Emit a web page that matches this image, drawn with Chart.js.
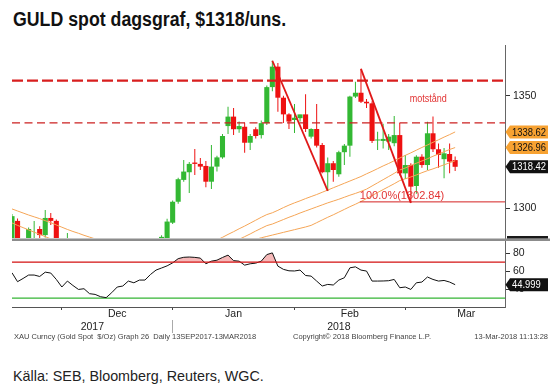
<!DOCTYPE html>
<html>
<head>
<meta charset="utf-8">
<script src="https://cdn.jsdelivr.net/npm/chart.js@4.4.1/dist/chart.umd.min.js"></script>
<style>
  html, body { margin: 0; padding: 0; background: #fff; }
  body { width: 559px; height: 391px; position: relative; overflow: hidden; font-family: "Liberation Sans", Arial, sans-serif; }
  #title { position: absolute; left: 13px; top: 8px; font-size: 20px; font-weight: bold; color: #111;
           white-space: nowrap; transform: scaleX(0.887); transform-origin: left top; }
  #priceCanvas { position: absolute; left: 0; top: 0; }
  #rsiCanvas { position: absolute; left: 0; top: 241px; }
  .foot { position: absolute; top: 332px; font-size: 7.5px; color: #444; white-space: nowrap; }
  #source { position: absolute; left: 13px; top: 367px; font-size: 15px; color: #222; white-space: nowrap;
            transform: scaleX(0.955); transform-origin: left top; }
</style>
</head>
<body>
<div id="title">GULD spot dagsgraf, $1318/uns.</div>
<canvas id="priceCanvas" width="559" height="250"></canvas>
<canvas id="rsiCanvas" width="559" height="100"></canvas>
<div class="foot" style="left:14px">XAU Curncy (Gold Spot &nbsp;$/Oz) Graph 26 &nbsp;Daily 13SEP2017-13MAR2018</div>
<div class="foot" style="left:293px">Copyright© 2018 Bloomberg Finance L.P.</div>
<div class="foot" style="right:11px">13-Mar-2018 11:13:28</div>
<div id="source">Källa: SEB, Bloomberg, Reuters, WGC.</div>

<script>
// daily candles, index 0 = first visible day (Nov 2017) ... 80 = 13 Mar 2018
const opens = [1284.0, 1294.4, 1283.0, 1279.0, 1284.0, 1290.8, 1288.1, 1295.7, 1294.4, 1282.0,
  1276.0, 1283.0, 1274.0, 1268.0, 1273.0, 1264.0, 1256.0, 1250.0, 1253.0, 1243.0,
  1248.0, 1256.0, 1261.0, 1258.0, 1265.0, 1268.0, 1274.0, 1280.0, 1285.0, 1293.6,
  1302.9, 1312.6, 1316.0, 1320.3, 1319.7, 1318.8, 1311.8, 1318.5, 1322.6, 1336.5,
  1340.7, 1335.1, 1336.2, 1329.1, 1335.1, 1332.5, 1337.8, 1353.8, 1362.9, 1349.1,
  1341.7, 1339.2, 1340.0, 1341.7, 1331.8, 1335.2, 1328.1, 1316.0, 1320.0, 1315.1,
  1324.9, 1327.8, 1349.6, 1351.3, 1347.3, 1346.6, 1330.1, 1329.9, 1329.6, 1328.9,
  1332.5, 1315.5, 1319.2, 1309.9, 1322.9, 1319.2, 1333.3, 1326.2, 1321.8, 1324.1, 1321.4];
const highs = [1297.5, 1295.5, 1285.5, 1291.5, 1294.3, 1292.0, 1299.2, 1297.9, 1295.0, 1285.0,
  1289.0, 1285.0, 1278.0, 1276.0, 1275.0, 1266.0, 1259.0, 1255.0, 1255.0, 1250.0,
  1258.0, 1263.0, 1263.0, 1266.0, 1270.0, 1276.0, 1282.0, 1288.0, 1295.3, 1303.5,
  1313.5, 1321.4, 1320.6, 1326.3, 1322.3, 1321.0, 1328.1, 1323.3, 1333.0, 1345.1,
  1344.5, 1338.5, 1338.0, 1333.0, 1336.0, 1339.0, 1354.5, 1365.5, 1364.5, 1350.0,
  1342.2, 1346.3, 1341.5, 1350.6, 1335.5, 1346.3, 1329.0, 1322.5, 1321.0, 1325.5,
  1328.5, 1350.0, 1356.2, 1361.9, 1348.5, 1347.5, 1334.0, 1337.5, 1333.0, 1341.0,
  1337.9, 1323.7, 1320.0, 1323.5, 1324.0, 1338.4, 1340.7, 1328.8, 1326.8, 1328.8, 1323.0];
const lows = [1281.0, 1280.0, 1276.0, 1277.0, 1281.0, 1286.0, 1287.0, 1292.6, 1280.0, 1275.0,
  1274.0, 1272.0, 1266.0, 1265.0, 1262.0, 1254.0, 1247.0, 1246.0, 1240.0, 1238.0,
  1246.0, 1254.0, 1255.0, 1256.0, 1262.0, 1266.0, 1272.0, 1278.0, 1283.0, 1293.0,
  1302.0, 1311.8, 1306.8, 1314.8, 1317.0, 1309.3, 1308.6, 1316.3, 1322.0, 1333.0,
  1332.5, 1333.5, 1324.7, 1325.9, 1331.0, 1331.0, 1337.0, 1352.0, 1342.9, 1337.9,
  1335.2, 1333.4, 1338.5, 1333.9, 1331.0, 1327.0, 1315.5, 1307.7, 1311.8, 1314.0,
  1319.2, 1322.9, 1349.0, 1346.8, 1344.5, 1329.0, 1325.9, 1326.5, 1325.9, 1327.5,
  1314.5, 1313.0, 1302.4, 1306.5, 1318.0, 1317.0, 1325.0, 1318.0, 1313.3, 1315.5, 1316.5];
const closes = [1296.5, 1283.0, 1279.0, 1290.8, 1286.0, 1288.1, 1295.7, 1294.4, 1282.0, 1277.0,
  1283.0, 1274.0, 1268.0, 1273.0, 1264.0, 1256.0, 1250.0, 1253.0, 1243.0, 1248.0,
  1256.0, 1261.0, 1258.0, 1265.0, 1268.0, 1274.0, 1280.0, 1287.3, 1294.1, 1302.9,
  1312.9, 1316.3, 1319.7, 1319.7, 1318.5, 1311.8, 1318.5, 1322.6, 1332.1, 1340.7,
  1335.1, 1336.5, 1329.1, 1332.1, 1332.1, 1337.8, 1353.8, 1362.9, 1349.1, 1341.7,
  1338.5, 1340.2, 1341.7, 1335.2, 1335.2, 1327.8, 1316.0, 1320.0, 1317.0, 1324.9,
  1327.8, 1349.6, 1351.3, 1347.3, 1346.6, 1329.9, 1330.4, 1330.8, 1331.8, 1332.5,
  1315.5, 1319.2, 1309.6, 1322.9, 1319.2, 1333.3, 1326.2, 1323.7, 1324.4, 1320.7, 1318.42];

// three moving averages (orange)
const maFast = [1299.7, 1298.8, 1297.9, 1297.0, 1296.2, 1295.4, 1294.5, 1293.6, 1292.6, 1291.6,
  1290.6, 1289.7, 1288.9, 1288.0, 1287.2, 1286.4, 1285.5, 1284.5, 1283.4, 1282.3,
  1281.3, 1280.4, 1279.7, 1279.1, 1278.7, 1278.5, 1278.5, 1278.7, 1279.1, 1279.7,
  1280.4, 1281.2, 1282.0, 1282.8, 1283.6, 1284.4, 1285.1, 1285.9, 1287.1, 1288.4,
  1289.6, 1290.9, 1292.1, 1293.4, 1294.7, 1296.0, 1297.2, 1298.0, 1299.1, 1300.3,
  1301.4, 1302.4, 1303.3, 1304.3, 1305.2, 1306.1, 1307.1, 1308.1, 1309.1, 1310.1,
  1311.1, 1312.1, 1313.1, 1314.1, 1315.3, 1316.4, 1317.6, 1318.8, 1319.9, 1321.1,
  1322.3, 1323.5, 1324.6, 1325.8, 1327.0, 1328.1, 1329.3, 1330.4, 1331.6, 1332.7, 1333.9];
const maMid = [1293.5, 1292.4, 1291.4, 1290.4, 1289.4, 1288.4, 1287.4, 1286.4, 1285.4, 1284.4,
  1283.4, 1282.4, 1281.4, 1280.5, 1279.6, 1278.7, 1277.9, 1277.1, 1276.4, 1275.8,
  1275.3, 1274.9, 1274.6, 1274.5, 1274.5, 1274.7, 1275.0, 1275.5, 1276.1, 1276.8,
  1277.5, 1278.3, 1279.1, 1279.9, 1280.7, 1281.5, 1282.3, 1283.1, 1283.9, 1284.7,
  1285.4, 1286.2, 1287.4, 1288.6, 1289.9, 1291.1, 1292.3, 1293.0, 1294.0, 1295.0,
  1296.0, 1296.9, 1297.9, 1298.8, 1299.7, 1300.6, 1301.5, 1302.4, 1303.2, 1304.0,
  1304.9, 1305.8, 1306.6, 1307.5, 1308.5, 1309.9, 1311.3, 1312.7, 1314.1, 1315.5,
  1317.0, 1317.9, 1319.0, 1320.0, 1321.0, 1322.0, 1323.1, 1324.1, 1325.1, 1326.1, 1326.96];
const maSlow = [1284.0, 1283.6, 1283.2, 1282.7, 1282.2, 1281.7, 1281.2, 1280.6, 1280.0, 1279.4,
  1278.8, 1278.2, 1277.6, 1277.0, 1276.4, 1275.9, 1275.4, 1274.9, 1274.5, 1274.1,
  1273.8, 1273.6, 1273.5, 1273.5, 1273.6, 1273.8, 1274.1, 1274.5, 1275.0, 1275.6,
  1276.3, 1277.0, 1277.7, 1278.4, 1279.1, 1279.8, 1280.5, 1281.2, 1281.9, 1282.6,
  1283.3, 1284.0, 1284.7, 1285.4, 1286.2, 1286.9, 1287.5, 1288.1, 1288.7, 1289.3,
  1289.9, 1290.5, 1291.1, 1291.7, 1292.4, 1293.6, 1294.8, 1296.0, 1297.1, 1298.3,
  1299.5, 1300.7, 1301.8, 1303.0, 1304.3, 1305.6, 1307.0, 1308.3, 1309.6, 1310.9,
  1312.3, 1313.1, 1313.9, 1314.8, 1315.8, 1316.7, 1317.5, 1318.4, 1319.3, 1320.2, 1321.1];

// RSI
const rsi = [58.2, 48.3, 51.9, 55.7, 55.7, 54.1, 58.9, 57.9, 50.8, 42.4,
  49.0, 44.1, 39.7, 40.5, 35.0, 34.2, 31.6, 30.6, 36.1, 42.4,
  43.5, 49.0, 47.1, 50.1, 50.1, 56.3, 61.2, 63.5, 65.9, 69.2,
  73.9, 75.4, 75.7, 75.3, 74.5, 68.2, 71.1, 72.2, 75.2, 77.8,
  71.7, 71.1, 66.7, 68.2, 68.9, 71.1, 78.4, 80.3, 65.6, 62.0,
  60.4, 60.2, 61.2, 55.2, 54.5, 49.0, 43.5, 45.3, 44.6, 50.1,
  52.7, 63.7, 64.8, 61.2, 60.1, 49.0, 49.0, 49.1, 49.4, 50.8,
  41.6, 42.4, 39.7, 47.1, 47.9, 53.5, 50.8, 49.0, 49.7, 47.9, 44.999];

const priceTicks = [1300, 1350];
const rsiTicks = [40, 60, 80];
const rsiBands = [70, 30];
const resistance = [1356.7, 1337.9];
const fibLevel = 1302.84;
const fibStart = 62.8;
const trendLines = [[47, 57], [63, 72]];   // from a high to a later low
const priceTags = ['1338.62', '1326.96', '1318.42'];
const rsiTag = '44.999';
const monthStarts = [9, 29, 51, 71, 93];
const monthNames = ['Dec', 'Jan', 'Feb', 'Mar'];
const yearStarts = [0, 29, 89];
const yearNames = ['2017', '2018'];
const xMax = 89;

const GREEN = '#33b833', RED = '#ee1111', ORANGE = '#f5a556';
const SANS = '"Liberation Sans", Arial, sans-serif';
const last = closes.length - 1;

const candleColors = closes.map((c, i) => c >= opens[i] ? GREEN : RED);
const asPoints = arr => arr.map((v, i) => ({ x: i, y: v }));
const hLine = (v, from, to) => [{ x: from, y: v }, { x: to, y: v }];

// squeezed text, the Bloomberg font is narrow
function narrowText(ctx, text, x, y, sx) {
    ctx.save();
    ctx.translate(x, y);
    ctx.scale(sx, 1);
    ctx.fillText(text, 0, 0);
    ctx.restore();
}

function drawTag(ctx, x0, yc, text, fill, color) {
    const h = 13, w = 43;
    ctx.beginPath();
    ctx.moveTo(x0 + 0.5, yc);
    ctx.lineTo(x0 + 5, yc - h / 2);
    ctx.lineTo(x0 + w, yc - h / 2);
    ctx.lineTo(x0 + w, yc + h / 2);
    ctx.lineTo(x0 + 5, yc + h / 2);
    ctx.closePath();
    ctx.fillStyle = fill;
    ctx.fill();
    ctx.fillStyle = color;
    ctx.font = '11.5px ' + SANS;
    ctx.textAlign = 'left';
    ctx.textBaseline = 'middle';
    narrowText(ctx, text, x0 + 7, yc + 0.5, 0.82);
}

// texts, tags and pane separator for the price pane
const priceOverlay = {
    id: 'priceOverlay',
    afterDraw(chart) {
        const { ctx } = chart;
        const x = chart.scales.x, y = chart.scales.y;
        ctx.save();
        ctx.fillStyle = '#e23434';
        ctx.textAlign = 'left';
        ctx.textBaseline = 'alphabetic';
        ctx.font = '11px ' + SANS;
        narrowText(ctx, 'motstånd', x.getPixelForValue(71.8), y.getPixelForValue(1347.0), 0.82);
        ctx.fillText('100.0%(' + fibLevel.toFixed(2) + ')', x.getPixelForValue(fibStart), y.getPixelForValue(fibLevel) - 2.5);

        ctx.fillStyle = '#8c8c8c';
        ctx.fillRect(x.left, y.bottom + 0.5, 550 - x.left, 2.5);
        ctx.fillStyle = '#1a1a1a';
        ctx.fillRect(y.left + 2, y.bottom - 2, 41, 2.5);

        drawTag(ctx, y.left, y.getPixelForValue(maFast[last]), priceTags[0], '#f7a232', '#111');
        drawTag(ctx, y.left, y.getPixelForValue(maMid[last]), priceTags[1], '#f7a232', '#111');
        drawTag(ctx, y.left, y.getPixelForValue(closes[last]), priceTags[2], '#111', '#fff');
        ctx.restore();
    }
};

const rsiOverlay = {
    id: 'rsiOverlay',
    afterDraw(chart) {
        const y = chart.scales.y;
        chart.ctx.save();
        drawTag(chart.ctx, y.left, y.getPixelForValue(rsi[last]), rsiTag, '#111', '#fff');
        chart.ctx.restore();
    }
};

const priceLine = (data, color, width, dash) => ({
    type: 'line', data, borderColor: color, borderWidth: width, borderDash: dash || [],
    pointRadius: 0, tension: 0, fill: false, clip: 0
});

const axisFont = { family: SANS, size: 10.5 };

new Chart(document.getElementById('priceCanvas'), {
    type: 'bar',
    data: {
        datasets: [
            ...trendLines.map(([a, b]) => priceLine([{ x: a, y: highs[a] }, { x: b, y: lows[b] }], '#e01818', 1.8)),
            priceLine(hLine(fibLevel, fibStart, xMax), '#d42020', 1),
            priceLine(hLine(resistance[0], 0, xMax), '#d81e1e', 2.3, [11, 4]),
            priceLine(hLine(resistance[1], 0, xMax), '#cc2020', 1.4, [8, 4.5]),
            priceLine(asPoints(maFast), ORANGE, 1),
            priceLine(asPoints(maMid), ORANGE, 1),
            priceLine(asPoints(maSlow), ORANGE, 1),
            {
                type: 'bar', data: opens.map((o, i) => ({ x: i, y: [o, closes[i]] })),
                backgroundColor: candleColors, barPercentage: 0.92, categoryPercentage: 1,
                minBarLength: 1, grouped: false, borderWidth: 0, clip: 0
            },
            {
                type: 'bar', data: lows.map((l, i) => ({ x: i, y: [l, highs[i]] })),
                backgroundColor: candleColors, maxBarThickness: 1, grouped: false, borderWidth: 0, clip: 0
            }
        ]
    },
    options: {
        responsive: false,
        animation: false,
        events: [],
        layout: { padding: { left: 12, top: 45, right: 0, bottom: 12 } },
        plugins: { legend: { display: false }, tooltip: { enabled: false } },
        scales: {
            x: { type: 'linear', min: 0, max: xMax, display: false, offset: false, grid: { offset: false } },
            y: {
                position: 'right', min: 1286.8, max: 1372.5,
                afterBuildTicks: s => { s.ticks = priceTicks.map(v => ({ value: v })); },
                afterFit: s => { s.width = 54; s.paddingTop = 0; s.paddingBottom = 0; },
                grid: { drawOnChartArea: false, tickLength: 5, color: '#333' },
                border: { color: '#666' },
                ticks: { padding: 3, color: '#222', font: axisFont, callback: v => String(v) }
            }
        }
    },
    plugins: [priceOverlay]
});

// month ticks sit at month starts, names between them
const monthLabelAt = new Map();
monthNames.forEach((m, i) => monthLabelAt.set((monthStarts[i] + monthStarts[i + 1]) / 2, m));
const yearLabelAt = new Map();
yearNames.forEach((yname, i) => yearLabelAt.set((yearStarts[i] + yearStarts[i + 1]) / 2, yname));

new Chart(document.getElementById('rsiCanvas'), {
    type: 'line',
    data: {
        datasets: [
            { data: hLine(rsiBands[0], 0, xMax), borderColor: '#d41515', borderWidth: 1.3, pointRadius: 0, clip: 0 },
            {
                data: asPoints(rsi), borderColor: '#111', borderWidth: 1, pointRadius: 0, tension: 0, clip: 0,
                fill: { target: { value: rsiBands[0] }, above: '#f6b9b9', below: 'rgba(0,0,0,0)' }
            },
            { data: hLine(rsiBands[1], 0, xMax), borderColor: '#35b535', borderWidth: 1.3, pointRadius: 0, clip: 0 }
        ]
    },
    options: {
        responsive: false,
        animation: false,
        events: [],
        layout: { padding: { left: 12, top: 0, right: 0, bottom: 7 } },
        plugins: { legend: { display: false }, tooltip: { enabled: false } },
        scales: {
            x: {
                type: 'linear', min: 0, max: xMax, position: 'bottom', weight: 0,
                afterBuildTicks: s => {
                    const vals = monthStarts.filter(v => v <= xMax).concat([...monthLabelAt.keys()]);
                    s.ticks = vals.sort((a, b) => a - b).map(v => ({ value: v }));
                },
                afterFit: s => { s.height = 13; s.paddingLeft = 0; s.paddingRight = 0; },
                grid: {
                    drawOnChartArea: false, tickLength: 3,
                    tickColor: c => monthStarts.includes(c.tick.value) ? '#444' : 'rgba(0,0,0,0)'
                },
                border: { color: '#555' },
                ticks: {
                    autoSkip: false, maxRotation: 0, padding: -2, color: '#222', font: axisFont,
                    callback: v => monthLabelAt.get(v) || ''
                }
            },
            x2: {
                type: 'linear', axis: 'x', min: 0, max: xMax, position: 'bottom', weight: 1,
                afterBuildTicks: s => {
                    const vals = yearStarts.slice(1, -1).concat([...yearLabelAt.keys()]);
                    s.ticks = vals.sort((a, b) => a - b).map(v => ({ value: v }));
                },
                afterFit: s => { s.height = 14; s.paddingLeft = 0; s.paddingRight = 0; },
                grid: {
                    drawOnChartArea: false, tickLength: 13,
                    tickColor: c => yearStarts.includes(c.tick.value) ? '#aaa' : 'rgba(0,0,0,0)'
                },
                border: { display: false },
                ticks: {
                    autoSkip: false, maxRotation: 0, padding: -12, color: '#222', font: axisFont,
                    callback: v => yearLabelAt.get(v) || ''
                }
            },
            y: {
                position: 'right', min: 20.2, max: 93.5,
                afterBuildTicks: s => { s.ticks = rsiTicks.map(v => ({ value: v })); },
                afterFit: s => { s.width = 54; s.paddingTop = 0; s.paddingBottom = 0; },
                grid: { drawOnChartArea: false, tickLength: 5, color: '#333' },
                border: { color: '#666' },
                ticks: { padding: 3, color: '#222', font: axisFont, callback: v => String(v) }
            }
        }
    },
    plugins: [rsiOverlay]
});
</script>
</body>
</html>
